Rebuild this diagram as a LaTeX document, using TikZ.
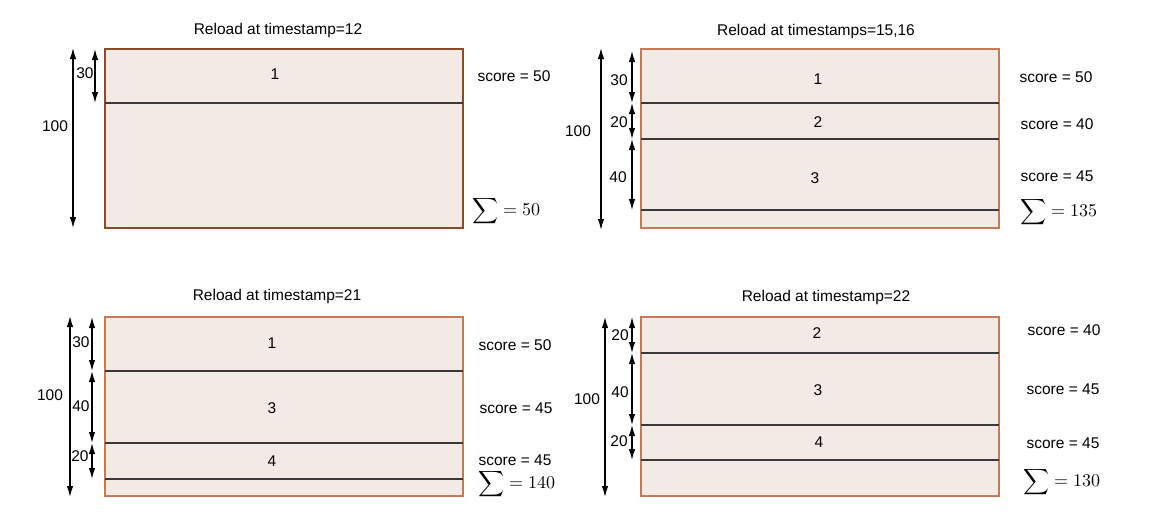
\documentclass[tikz,border=0pt]{standalone}
\usepackage{fontspec}
\setmainfont{Liberation Sans}
\usetikzlibrary{arrows.meta}
\definecolor{boxfill}{HTML}{F3EAE5}
\definecolor{borderA}{HTML}{8B4A2B}
\definecolor{borderB}{HTML}{C47A55}
\definecolor{divcol}{HTML}{3A3A3A}
\tikzset{
  panelA/.style={fill=boxfill, draw=borderA, line width=1.3pt},
  panelB/.style={fill=boxfill, draw=borderB, line width=1.3pt},
  divider/.style={draw=divcol, line width=1.1pt},
  dim/.style={draw=black, line width=1.3pt, {Latex[length=11pt,width=6.5pt]}-{Latex[length=11pt,width=6.5pt]}},
  lab/.style={font=\fontsize{15.5}{18}\selectfont, inner sep=0pt},
  sumlab/.style={inner sep=0pt, anchor=west},
}
\newcommand{\sumtext}[1]{\scalebox{1.8}{$\displaystyle\sum = #1$}}
\begin{document}
\begin{tikzpicture}[x=1pt,y=-1pt]
\useasboundingbox (0,0) rectangle (1159,530);

% ---------------- Panel 1 ----------------
\node[lab] (t1) at (278,30) {Reload at timestamp=12};
\path[panelA] (105,49) rectangle (463,228);
\draw[divider] (105,103) -- (463,103);
\coordinate (p1L0) at (73,48);  \coordinate (p1L1) at (73,228);
\coordinate (p1s0) at (95,49);  \coordinate (p1s1) at (95,103);
\draw[dim] (p1L0) -- (p1L1);
\draw[dim] (p1s0) -- (p1s1);
\node[lab] (p1h) at (55,126) {100};
\node[lab] (p1a) at (85,73) {30};
\node[lab] (p1n1) at (275,74) {1};
\node[lab] (p1sc1) at (514,76) {score = 50};
\node[sumlab] (p1sum) at (472,211) {\sumtext{50}};

% ---------------- Panel 2 ----------------
\node[lab] (t2) at (816,31) {Reload at timestamps=15,16};
\path[panelB] (641,49) rectangle (999,228);
\draw[divider] (641,103) -- (999,103);
\draw[divider] (641,139) -- (999,139);
\draw[divider] (641,210) -- (999,210);
\coordinate (p2L0) at (601,48);  \coordinate (p2L1) at (601,230);
\coordinate (p2a0) at (632,51);  \coordinate (p2a1) at (632,103);
\coordinate (p2b0) at (632,103); \coordinate (p2b1) at (632,139);
\coordinate (p2c0) at (632,139); \coordinate (p2c1) at (632,210);
\draw[dim] (p2L0) -- (p2L1);
\draw[dim] (p2a0) -- (p2a1);
\draw[dim] (p2b0) -- (p2b1);
\draw[dim] (p2c0) -- (p2c1);
\node[lab] (p2h) at (578,131) {100};
\node[lab] (p2a) at (619,80) {30};
\node[lab] (p2b) at (619,122) {20};
\node[lab] (p2c) at (618,177) {40};
\node[lab] (p2n1) at (818,79) {1};
\node[lab] (p2n2) at (818,122) {2};
\node[lab] (p2n3) at (815,178) {3};
\node[lab] (p2sc1) at (1056,77) {score = 50};
\node[lab] (p2sc2) at (1057,124) {score = 40};
\node[lab] (p2sc3) at (1057,176) {score = 45};
\node[sumlab] (p2sum) at (1020,212) {\sumtext{135}};

% ---------------- Panel 3 ----------------
\node[lab] (t3) at (277,296) {Reload at timestamp=21};
\path[panelB] (105,317) rectangle (463,496);
\draw[divider] (105,371) -- (463,371);
\draw[divider] (105,443) -- (463,443);
\draw[divider] (105,479) -- (463,479);
\coordinate (p3L0) at (70,316);  \coordinate (p3L1) at (70,497);
\coordinate (p3a0) at (92,317);  \coordinate (p3a1) at (92,371);
\coordinate (p3b0) at (92,371);  \coordinate (p3b1) at (92,443);
\coordinate (p3c0) at (92,443);  \coordinate (p3c1) at (92,479);
\draw[dim] (p3L0) -- (p3L1);
\draw[dim] (p3a0) -- (p3a1);
\draw[dim] (p3b0) -- (p3b1);
\draw[dim] (p3c0) -- (p3c1);
\node[lab] (p3h) at (50,395) {100};
\node[lab] (p3a) at (81,342) {30};
\node[lab] (p3b) at (81,406) {40};
\node[lab] (p3c) at (80,456) {20};
\node[lab] (p3n1) at (272,343) {1};
\node[lab] (p3n3) at (272,408) {3};
\node[lab] (p3n4) at (272,461) {4};
\node[lab] (p3sc1) at (515,345) {score = 50};
\node[lab] (p3sc2) at (516,408) {score = 45};
\node[lab] (p3sc3) at (515,460) {score = 45};
\node[sumlab] (p3sum) at (478,484) {\sumtext{140}};

% ---------------- Panel 4 ----------------
\node[lab] (t4) at (826,297) {Reload at timestamp=22};
\path[panelB] (641,317) rectangle (999,496);
\draw[divider] (641,353) -- (999,353);
\draw[divider] (641,425) -- (999,425);
\draw[divider] (641,460) -- (999,460);
\coordinate (p4L0) at (605,317);  \coordinate (p4L1) at (605,497);
\coordinate (p4a0) at (632,317);  \coordinate (p4a1) at (632,353);
\coordinate (p4b0) at (632,353);  \coordinate (p4b1) at (632,425);
\coordinate (p4c0) at (632,425);  \coordinate (p4c1) at (632,460);
\draw[dim] (p4L0) -- (p4L1);
\draw[dim] (p4a0) -- (p4a1);
\draw[dim] (p4b0) -- (p4b1);
\draw[dim] (p4c0) -- (p4c1);
\node[lab] (p4h) at (587,399) {100};
\node[lab] (p4a) at (620,335) {20};
\node[lab] (p4b) at (620,392) {40};
\node[lab] (p4c) at (619,441) {20};
\node[lab] (p4n2) at (817,333) {2};
\node[lab] (p4n3) at (818,390) {3};
\node[lab] (p4n4) at (819,442) {4};
\node[lab] (p4sc1) at (1064,330) {score = 40};
\node[lab] (p4sc2) at (1063,389) {score = 45};
\node[lab] (p4sc3) at (1063,443) {score = 45};
\node[sumlab] (p4sum) at (1023,482) {\sumtext{130}};
\end{tikzpicture}
\end{document}
